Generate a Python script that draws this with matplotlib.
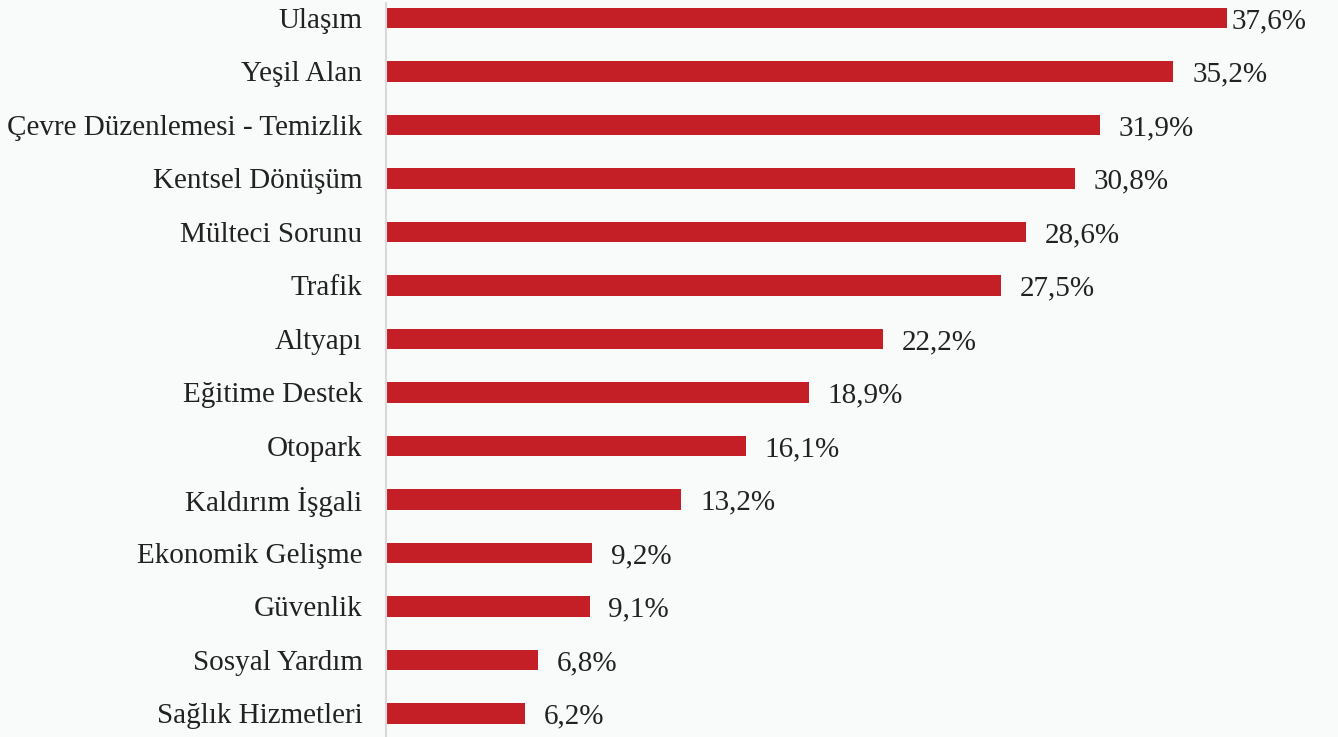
import matplotlib.pyplot as plt

categories = [
    "Ulaşım", "Yeşil Alan", "Çevre Düzenlemesi - Temizlik", "Kentsel Dönüşüm",
    "Mülteci Sorunu", "Trafik", "Altyapı", "Eğitime Destek", "Otopark",
    "Kaldırım İşgali", "Ekonomik Gelişme", "Güvenlik", "Sosyal Yardım",
    "Sağlık Hizmetleri",
]
values = [37.6, 35.2, 31.9, 30.8, 28.6, 27.5, 22.2, 18.9, 16.1, 13.2, 9.2, 9.1, 6.8, 6.2]
value_labels = ["37,6%", "35,2%", "31,9%", "30,8%", "28,6%", "27,5%", "22,2%",
                "18,9%", "16,1%", "13,2%", "9,2%", "9,1%", "6,8%", "6,2%"]


def main() -> None:
    plt.rcParams["font.family"] = ["Liberation Serif", "DejaVu Serif"]
    bg = "#F9FAFA"
    fig = plt.figure(figsize=(13.38, 7.37), dpi=100, facecolor=bg)
    ax = fig.add_axes([386 / 1338, 0, 1 - 386 / 1338, 1 - 3 / 737])
    ax.set_facecolor(bg)

    xmax = 42.56
    pos = list(range(len(categories)))
    ax.barh(pos, values, height=0.39, color="#C41F26", edgecolor="none")
    for y, v, lab in zip(pos, values, value_labels):
        # labels that would run off the right edge are pulled in closer
        off = 3 if v > xmax - 5 else 13.5
        ax.annotate(lab, xy=(v, y), xytext=(off, 0), textcoords="offset points",
                    va="center_baseline", ha="left", fontsize=21, color="#222222")

    ax.set_xlim(0, xmax)
    ax.set_ylim(13.44, -0.28)
    ax.set_yticks(pos)
    ax.set_yticklabels(categories, fontsize=21, color="#222222", va="center_baseline")
    ax.tick_params(axis="y", length=0, pad=17)
    ax.set_xticks([])
    for side in ("top", "right", "bottom"):
        ax.spines[side].set_visible(False)
    ax.spines["left"].set_color("#D9D9D9")
    ax.spines["left"].set_linewidth(1.5)

    fig.savefig("out.png", dpi=100, facecolor=bg)


if __name__ == "__main__":
    main()
